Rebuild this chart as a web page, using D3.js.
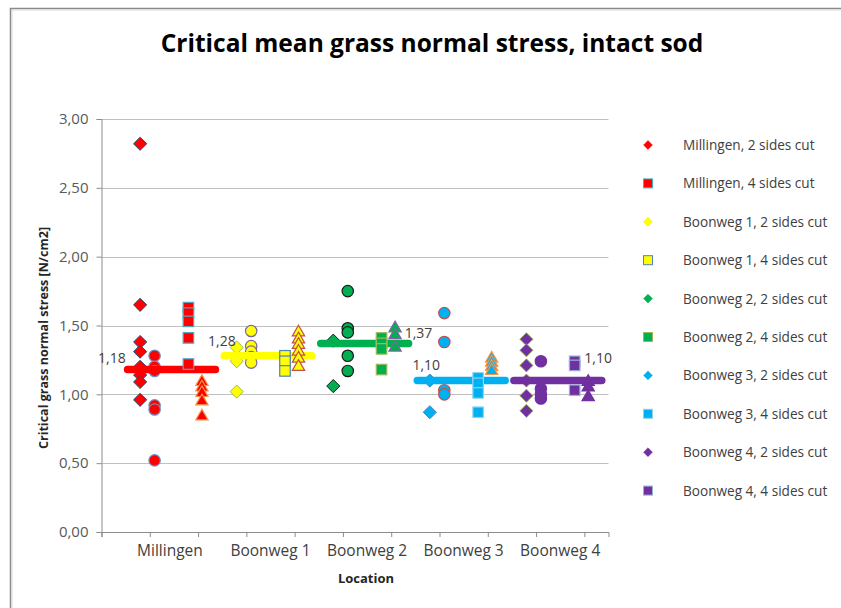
<!DOCTYPE html>
<html>
<head>
<meta charset="utf-8">
<script src="https://cdn.jsdelivr.net/npm/d3@7"></script>
<style>
  body { margin: 0; background: #fff; }
  text { font-family: "Open Sans", "DejaVu Sans", sans-serif; }
</style>
</head>
<body>
<div id="chart"></div>
<script>
// locations on the x axis (1..5)
const locations = ["Millingen", "Boonweg 1", "Boonweg 2", "Boonweg 3", "Boonweg 4"];
const yTicks = [0, 0.5, 1, 1.5, 2, 2.5, 3];

// "2 sides cut" (diamonds)
const twoSides = [
  [2.82, 1.65, 1.38, 1.31, 1.20, 1.14, 1.09, 0.96],
  [1.34, 1.24, 1.02],
  [1.39, 1.06],
  [1.10, 0.87],
  [1.40, 1.32, 1.21, 1.10, 0.99, 0.88]
];
// extra series drawn as circles (not in legend)
const circleSeries = [
  [1.28, 1.20, 1.17, 0.92, 0.89, 0.52],
  [1.46, 1.35, 1.31, 1.27, 1.23],
  [1.75, 1.48, 1.45, 1.28, 1.17],
  [1.59, 1.38, 1.03, 1.00],
  [1.24, 1.04, 1.00, 0.97]
];
// "4 sides cut" (squares)
const fourSides = [
  [1.63, 1.59, 1.53, 1.41, 1.22],
  [1.28, 1.24, 1.17],
  [1.41, 1.37, 1.33, 1.18],
  [1.12, 1.08, 1.01, 0.87],
  [1.24, 1.21, 1.03]
];
// extra series drawn as triangles (not in legend)
const triangleSeries = [
  [1.09, 1.05, 1.01, 0.95, 0.84],
  [1.45, 1.40, 1.36, 1.31, 1.26, 1.20],
  [1.48, 1.43, 1.34],
  [1.26, 1.23, 1.20, 1.17],
  [1.09, 1.05, 0.98]
];
// mean per location
const means = [1.18, 1.28, 1.37, 1.10, 1.10];

// colours per location
const fills = ["#ff0000", "#ffff00", "#00b050", "#00b0f0", "#7030a0"];
const diamondStroke = ["#1f4e79", "#9bbb59", "#1a1a1a", "#4f81bd", "#9bbb59"];
const circleStroke = ["#6f8fc0", "#8064a2", "#1a1a1a", "#c0504d", "#7030a0"];
const squareStroke = ["#4bacc6", "#4f81bd", "#9bbb59", "#8fd3f0", "#95b3d7"];
const triStroke = ["#f79646", "#c0504d", "#8064a2", "#f79646", "#7030a0"];
// mean label placement: [x offset in axis units, anchor, dy]
const meanLabelPos = [[-0.5, "end", -7], [-0.36, "end", -10], [0.39, "start", -5], [-0.53, "start", -11], [0.25, "start", -18]];

const W = 841, H = 608;
const svg = d3.select("#chart").append("svg")
  .attr("width", W).attr("height", H);

svg.append("rect").attr("width", W).attr("height", H).attr("fill", "#fff");
// chart area border
svg.append("rect").attr("x", 10.5).attr("y", 8.5)
  .attr("width", 900).attr("height", 700)
  .attr("fill", "none").attr("stroke", "#8a8a8a").attr("stroke-width", 1.5);
svg.append("rect").attr("x", 12).attr("y", 10)
  .attr("width", 900).attr("height", 700)
  .attr("fill", "none").attr("stroke", "#d8d8d8").attr("stroke-width", 1);

const x = d3.scaleLinear().domain([0.25, 5.5]).range([101.5, 608.5]);
const y = d3.scaleLinear().domain([0, 3]).range([532, 119]);

svg.append("text")
  .attr("x", 432).attr("y", 52)
  .attr("text-anchor", "middle")
  .attr("font-size", 24.5).attr("font-weight", "bold").attr("fill", "#000")
  .text("Critical mean grass normal stress, intact sod");

// gridlines
svg.append("g").selectAll("line")
  .data(yTicks.filter(d => d > 0))
  .join("line")
  .attr("x1", x(0.25)).attr("x2", x(5.5))
  .attr("y1", d => Math.round(y(d)) + 0.5).attr("y2", d => Math.round(y(d)) + 0.5)
  .attr("stroke", "#c0c0c0");

const fmt = d => d3.format(".2f")(d).replace(".", ",");

const yAxis = svg.append("g")
  .attr("transform", `translate(${x(0.25)},0)`)
  .call(d3.axisLeft(y).tickValues(yTicks).tickFormat(fmt).tickSize(5).tickPadding(8));
yAxis.select(".domain").attr("stroke", "#8c8c8c");
yAxis.selectAll(".tick line").attr("stroke", "#8c8c8c");
yAxis.selectAll(".tick text").attr("font-size", 15).attr("fill", "#595959")
  .style("font-family", "'Open Sans', sans-serif");

const xAxis = svg.append("g")
  .attr("transform", `translate(0,${y(0)})`)
  .call(d3.axisBottom(x).tickValues(d3.range(0.25, 5.51, 0.5)).tickFormat("").tickSizeOuter(0).tickSize(5));
xAxis.select(".domain").attr("stroke", "#8c8c8c");
xAxis.selectAll(".tick line").attr("stroke", "#8c8c8c");

// category labels
svg.append("g").selectAll("text")
  .data(locations)
  .join("text")
  .attr("x", (d, i) => x(i + 1) - (i === 0 ? 4 : 0))
  .attr("y", 556)
  .attr("text-anchor", "middle")
  .attr("font-size", 15.5).attr("fill", "#404040")
  .text(d => d);

svg.append("text")
  .attr("x", 366).attr("y", 583)
  .attr("text-anchor", "middle")
  .attr("font-size", 13).attr("font-weight", "bold").attr("fill", "#262626")
  .text("Location");

svg.append("text")
  .attr("transform", "translate(48,338) rotate(-90)")
  .attr("text-anchor", "middle")
  .attr("font-size", 12.5).attr("font-weight", "bold").attr("fill", "#262626")
  .text("Critical grass normal stress [N/cm2]");

const flat = (arr, off) => arr.flatMap((vals, i) => vals.map(v => ({ i, x: i + 1 + off, v })));

const diamond = d3.symbol().type(d3.symbolDiamond2).size(110);
const triangle = d3.symbol().type(d3.symbolTriangle).size(66);

const plot = svg.append("g");

plot.append("g").selectAll("path")
  .data(flat(twoSides, -0.35))
  .join("path")
  .attr("transform", d => `translate(${x(d.x)},${y(d.v)})`)
  .attr("d", diamond)
  .attr("fill", d => fills[d.i]).attr("stroke", d => diamondStroke[d.i]).attr("stroke-width", 1);

plot.append("g").selectAll("circle")
  .data(flat(circleSeries, -0.2))
  .join("circle")
  .attr("cx", d => x(d.x)).attr("cy", d => y(d.v)).attr("r", 5.7)
  .attr("fill", d => fills[d.i]).attr("stroke", d => circleStroke[d.i]).attr("stroke-width", 1.2);

// mean lines
plot.append("g").selectAll("line")
  .data(means)
  .join("line")
  .attr("x1", (d, i) => x(i + 1 - 0.48)).attr("x2", (d, i) => x(i + 1 + 0.43))
  .attr("y1", d => y(d)).attr("y2", d => y(d))
  .attr("stroke", (d, i) => fills[i]).attr("stroke-width", 7.5)
  .attr("stroke-linecap", "round");

plot.append("g").selectAll("rect")
  .data(flat(fourSides, 0.15))
  .join("rect")
  .attr("x", d => x(d.x) - 5.25).attr("y", d => y(d.v) - 5.25)
  .attr("width", 10.5).attr("height", 10.5)
  .attr("fill", d => fills[d.i]).attr("stroke", d => squareStroke[d.i]).attr("stroke-width", 1.2);

plot.append("g").selectAll("path")
  .data(flat(triangleSeries, 0.29))
  .join("path")
  .attr("transform", d => `translate(${x(d.x)},${y(d.v)})`)
  .attr("d", triangle)
  .attr("fill", d => fills[d.i]).attr("stroke", d => triStroke[d.i]).attr("stroke-width", 1.2);

// mean labels
svg.append("g").selectAll("text")
  .data(means)
  .join("text")
  .attr("x", (d, i) => x(i + 1 + meanLabelPos[i][0]))
  .attr("y", (d, i) => y(d) + meanLabelPos[i][2])
  .attr("text-anchor", (d, i) => meanLabelPos[i][1])
  .attr("font-size", 14).attr("fill", "#404040")
  .text(d => fmt(d));

// legend
const legendItems = locations.flatMap((loc, i) => [
  { label: `${loc}, 2 sides cut`, i, shape: "diamond" },
  { label: `${loc}, 4 sides cut`, i, shape: "square" }
]);
const legend = svg.append("g").selectAll("g")
  .data(legendItems)
  .join("g")
  .attr("transform", (d, k) => `translate(648,${145 + k * 38.4})`);
legend.filter(d => d.shape === "diamond").append("path")
  .attr("d", d3.symbol().type(d3.symbolDiamond2).size(50))
  .attr("fill", d => fills[d.i]).attr("stroke", d => d.i === 1 ? "#e6e600" : fills[d.i]).attr("stroke-width", 0.5);
legend.filter(d => d.shape === "square").append("rect")
  .attr("x", -4.5).attr("y", -4.5).attr("width", 9).attr("height", 9)
  .attr("fill", d => fills[d.i]).attr("stroke", d => squareStroke[d.i]).attr("stroke-width", 1);
legend.append("text")
  .attr("x", 35).attr("y", 5)
  .attr("font-size", 13.6).attr("fill", "#404040")
  .text(d => d.label);
</script>
</body>
</html>
